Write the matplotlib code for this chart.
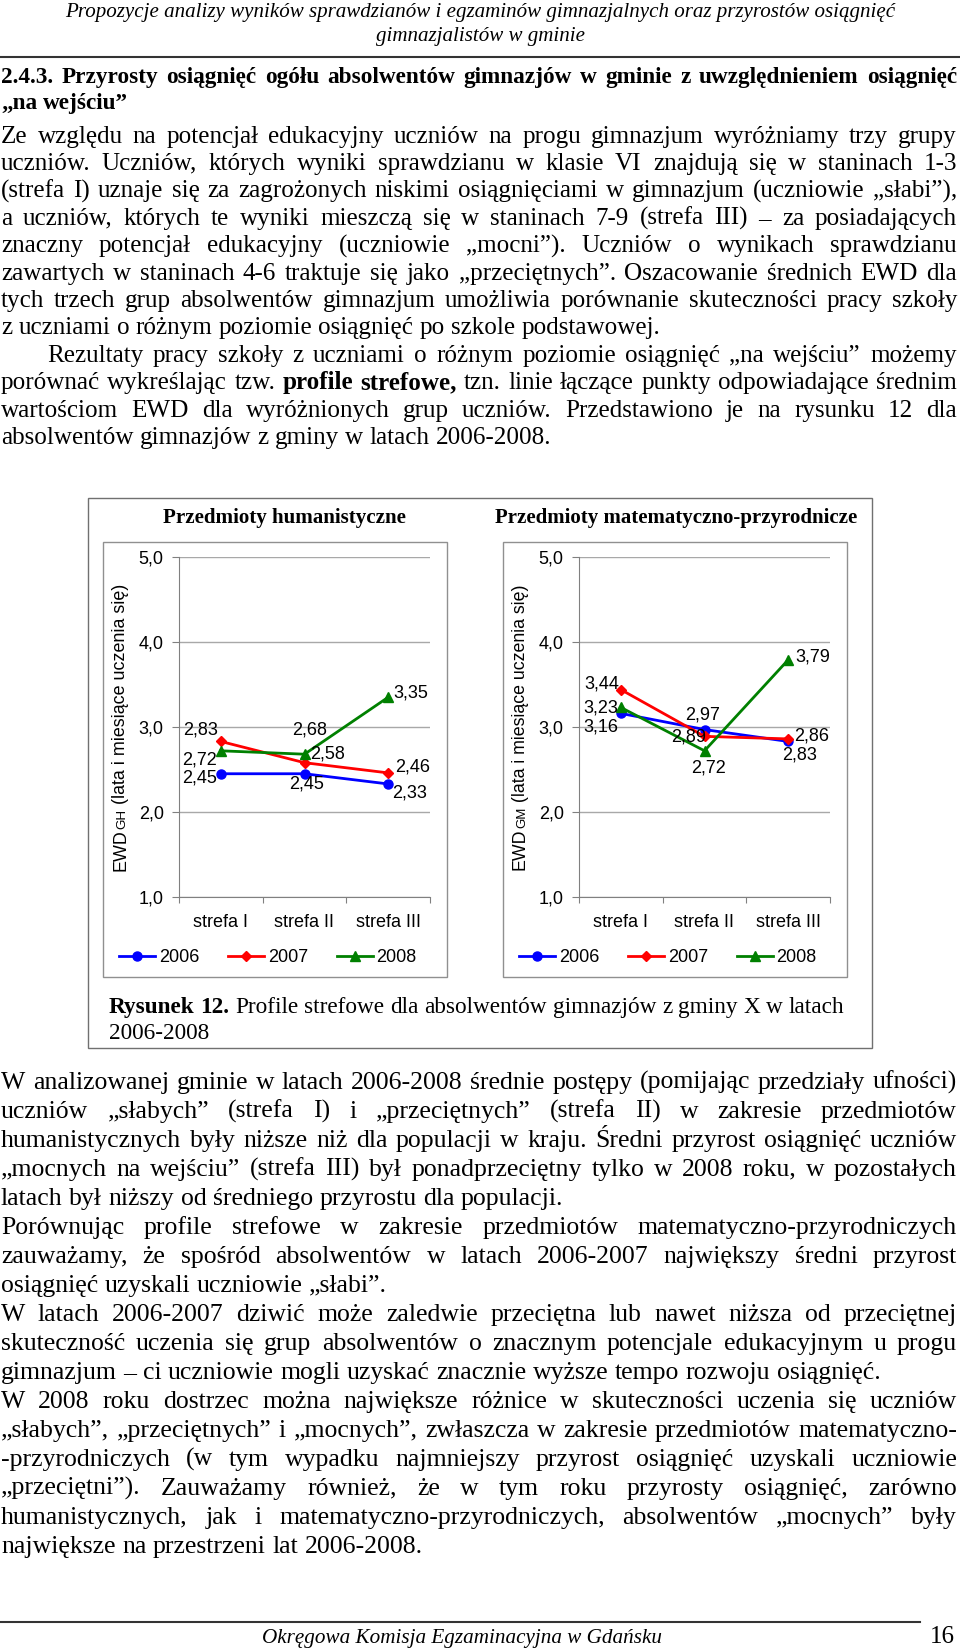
import matplotlib
matplotlib.use("Agg")
import matplotlib.pyplot as plt
from matplotlib import font_manager
from matplotlib.patches import Rectangle
from matplotlib.lines import Line2D

# ---- chart data ----
zones = ["strefa I", "strefa II", "strefa III"]
years = ["2006", "2007", "2008"]
hum_2006 = [2.45, 2.45, 2.33]
hum_2007 = [2.83, 2.58, 2.46]
hum_2008 = [2.72, 2.68, 3.35]
mat_2006 = [3.16, 2.97, 2.83]
mat_2007 = [3.44, 2.89, 2.86]
mat_2008 = [3.23, 2.72, 3.79]
y_ticks = [1.0, 2.0, 3.0, 4.0, 5.0]
y_tick_labels = ["1,0", "2,0", "3,0", "4,0", "5,0"]

hum_title = "Przedmioty humanistyczne"
mat_title = "Przedmioty matematyczno-przyrodnicze"
hum_ylabel = ["EWD", "GH", " (lata i miesiące uczenia się)"]
mat_ylabel = ["EWD", "GM", " (lata i miesiące uczenia się)"]

# ---- page text ----
header_lines = [
    "Propozycje analizy wyników sprawdzianów i egzaminów gimnazjalnych oraz przyrostów osiągnięć",
    "gimnazjalistów w gminie",
]
heading_lines = [
    "2.4.3. Przyrosty osiągnięć ogółu absolwentów gimnazjów w gminie z uwzględnieniem osiągnięć",
    "„na wejściu”",
]
top_par1 = [
    "Ze względu na potencjał edukacyjny uczniów na progu gimnazjum wyróżniamy trzy grupy",
    "uczniów. Uczniów, których wyniki sprawdzianu w klasie VI znajdują się w staninach 1-3",
    "(strefa I) uznaje się za zagrożonych niskimi osiągnięciami w gimnazjum (uczniowie „słabi”),",
    "a uczniów, których te wyniki mieszczą się w staninach 7-9 (strefa III) – za posiadających",
    "znaczny potencjał edukacyjny (uczniowie „mocni”). Uczniów o wynikach sprawdzianu",
    "zawartych w staninach 4-6 traktuje się jako „przeciętnych”. Oszacowanie średnich EWD dla",
    "tych trzech grup absolwentów gimnazjum umożliwia porównanie skuteczności pracy szkoły",
    "z uczniami o różnym poziomie osiągnięć po szkole podstawowej.",
]
top_par2 = [
    "Rezultaty pracy szkoły z uczniami o różnym poziomie osiągnięć „na wejściu” możemy",
    "porównać wykreślając tzw. *profile *strefowe, tzn. linie łączące punkty odpowiadające średnim",
    "wartościom EWD dla wyróżnionych grup uczniów. Przedstawiono je na rysunku 12 dla",
    "absolwentów gimnazjów z gminy w latach 2006-2008.",
]
caption_lines = [
    "*Rysunek *12. Profile strefowe dla absolwentów gimnazjów z gminy X w latach",
    "2006-2008",
]
bottom_pars = [
    [
        "W analizowanej gminie w latach 2006-2008 średnie postępy (pomijając przedziały ufności)",
        "uczniów „słabych” (strefa I) i „przeciętnych” (strefa II) w zakresie przedmiotów",
        "humanistycznych były niższe niż dla populacji w kraju. Średni przyrost osiągnięć uczniów",
        "„mocnych na wejściu” (strefa III) był ponadprzeciętny tylko w 2008 roku, w pozostałych",
        "latach był niższy od średniego przyrostu dla populacji.",
    ],
    [
        "Porównując profile strefowe w zakresie przedmiotów matematyczno-przyrodniczych",
        "zauważamy, że spośród absolwentów w latach 2006-2007 największy średni przyrost",
        "osiągnięć uzyskali uczniowie „słabi”.",
    ],
    [
        "W latach 2006-2007 dziwić może zaledwie przeciętna lub nawet niższa od przeciętnej",
        "skuteczność uczenia się grup absolwentów o znacznym potencjale edukacyjnym u progu",
        "gimnazjum – ci uczniowie mogli uzyskać znacznie wyższe tempo rozwoju osiągnięć.",
    ],
    [
        "W 2008 roku dostrzec można największe różnice w skuteczności uczenia się uczniów",
        "„słabych”, „przeciętnych” i „mocnych”, zwłaszcza w zakresie przedmiotów matematyczno-",
        "-przyrodniczych (w tym wypadku najmniejszy przyrost osiągnięć uzyskali uczniowie",
        "„przeciętni”). Zauważamy również, że w tym roku przyrosty osiągnięć, zarówno",
        "humanistycznych, jak i matematyczno-przyrodniczych, absolwentów „mocnych” były",
        "największe na przestrzeni lat 2006-2008.",
    ],
]
footer_text = "Okręgowa Komisja Egzaminacyjna w Gdańsku"
page_number = "16"

# ---- layout ----
W, H = 960, 1650
SERIF = "Liberation Serif"
installed = {f.name for f in font_manager.fontManager.ttflist}
if "Liberation Sans Narrow" in installed:
    SANS, FS = "Liberation Sans Narrow", 15
else:
    SANS, FS = "Liberation Sans", 13

fig = plt.figure(figsize=(W / 100, H / 100), dpi=100)
renderer = fig.canvas.get_renderer()


def fx(x):
    return x / W


def fy(y):
    return 1 - y / H


def text_width(s, size, weight="normal", style="normal", family=SERIF):
    t = fig.text(0, 0, s, fontsize=size, fontweight=weight, fontstyle=style, family=family)
    w = t.get_window_extent(renderer).width
    t.remove()
    return w


def fit_size(s, target, weight="normal", style="normal", family=SERIF):
    return 20 * target / text_width(s.replace("*", ""), 20, weight, style, family)


def put_line(line, yc, left, right, size, justify=True, style="normal", weight="normal"):
    # words starting with * are bold
    words = line.split(" ")
    pieces = []
    for w in words:
        if w.startswith("*"):
            pieces.append((w[1:], "bold"))
        else:
            pieces.append((w, weight))
    widths = [text_width(w, size, wt, style) for w, wt in pieces]
    space = text_width("a a", size, style=style) - text_width("aa", size, style=style)
    if justify and len(pieces) > 1:
        gap = (right - left - sum(widths)) / (len(pieces) - 1)
    else:
        gap = space
    base = yc + 0.3 * size * 100 / 72
    x = left
    for (w, wt), wd in zip(pieces, widths):
        fig.text(fx(x), fy(base), w, fontsize=size, fontweight=wt, fontstyle=style,
                 family=SERIF, ha="left", va="baseline")
        x += wd + gap


def put_paragraph(lines, y0, step, left, right, size, indent=0):
    for i, line in enumerate(lines):
        last = i == len(lines) - 1
        put_line(line, y0 + i * step, left + (indent if i == 0 else 0), right, size,
                 justify=not last)


L, R = 1, 957

# header
hsize = fit_size(header_lines[0], 830, style="italic")
fig.text(0.5, fy(13), header_lines[0], fontsize=hsize, fontstyle="italic", family=SERIF,
         ha="center", va="center")
fig.text(0.5, fy(37), header_lines[1], fontsize=hsize, fontstyle="italic", family=SERIF,
         ha="center", va="center")
fig.add_artist(Line2D([0, 1], [fy(57), fy(57)], color="#333333", lw=1.5))

# section heading
head_size = fit_size(heading_lines[0], 935, weight="bold")
put_line(heading_lines[0], 76, L, R, head_size, justify=True, weight="bold")
put_line(heading_lines[1], 102, L, R, head_size, justify=False, weight="bold")

# upper paragraphs
top_lines = top_par1[:-1] + top_par2[:-1]
top_size = min(fit_size(s, 940 if not s.startswith("Rezultaty") else 894) for s in top_lines)
put_paragraph(top_par1, 135, 27.4, L, R, top_size)
put_paragraph(top_par2, 135 + 8 * 27.4, 27.4, L, R, top_size, indent=46)

# ---- figure frame with two charts ----
fig.add_artist(Rectangle((fx(88), fy(1048)), (872 - 88) / W, (1048 - 498) / H,
                         transform=fig.transFigure, fill=False, ec="#707070", lw=1))

colors = ["#0000ff", "#ff0000", "#008000"]
markers = ["o", "D", "^"]
msizes = [6.5, 5, 7]

hum_label_pos = [
    [(-4, -4, "right"), (2, -10, "center"), (4, -9, "left")],
    [(-3, 11, "right"), (6, 9, "left"), (7, 6, "left")],
    [(-4, -9, "right"), (5, 24, "center"), (5, 4, "left")],
]
mat_label_pos = [
    [(-2, -14, "right"), (-2, 15, "center"), (11, -14, "center")],
    [(-2, 6, "right"), (2, -1, "right"), (6, 3, "left")],
    [(-3, -1, "right"), (4, -17, "center"), (7, 3, "left")],
]


def draw_chart(ox, series, label_pos, title, title_x, ylabel_parts):
    # chart box
    fig.add_artist(Rectangle((fx(103 + ox), fy(977)), 344 / W, (977 - 542) / H,
                             transform=fig.transFigure, fill=False, ec="#909090", lw=1))
    fig.text(fx(title_x), fy(518), title,
             fontsize=fit_size(title, 243 if ox == 0 else 363, weight="bold"),
             fontweight="bold", family=SERIF, ha="center", va="center")

    ax = fig.add_axes([fx(179 + ox), fy(897), (430 - 179) / W, (897 - 557) / H])
    xs = list(range(len(zones)))
    handles = []
    for vals, c, m, ms, lp in zip(series, colors, markers, msizes, label_pos):
        h, = ax.plot(xs, vals, color=c, marker=m, markersize=ms, lw=2, zorder=3)
        handles.append(h)
        for x, v, (dx, dy, ha) in zip(xs, vals, lp):
            ax.annotate(f"{v:.2f}".replace(".", ","), (x, v), xytext=(dx, dy),
                        textcoords="offset pixels", ha=ha, va="center",
                        fontsize=FS, family=SANS, zorder=4)
    ax.set_xlim(-0.5, len(zones) - 0.5)
    ax.set_ylim(y_ticks[0], y_ticks[-1])
    ax.set_yticks(y_ticks)
    ax.set_yticklabels(y_tick_labels, fontsize=FS, family=SANS)
    ax.set_xticks([i - 0.5 for i in range(len(zones) + 1)])
    ax.set_xticklabels([])
    ax.set_xticks(xs, minor=True)
    ax.set_xticklabels(zones, minor=True, fontsize=FS, family=SANS)
    ax.tick_params(axis="x", which="major", length=4, color="#808080", direction="out")
    ax.tick_params(axis="x", which="minor", length=0, pad=12)
    ax.tick_params(axis="y", length=5, color="#808080", pad=6)
    ax.grid(axis="y", color="#a8a8a8", lw=1)
    ax.set_axisbelow(True)
    for s in ["top", "right"]:
        ax.spines[s].set_visible(False)
    for s in ["left", "bottom"]:
        ax.spines[s].set_color("#808080")
    ax.patch.set_alpha(0)

    ax.legend(handles, years, loc="center left", bbox_to_anchor=(fx(119 + ox), fy(958)),
              bbox_transform=fig.transFigure, ncol=3, frameon=False,
              prop={"family": SANS, "size": FS}, handlelength=2.0, handletextpad=0.2,
              columnspacing=1.6, borderpad=0, borderaxespad=0)

    # rotated y label: EWD + smaller letters + rest, fitted to ~287 px
    rel = [1.0, 0.75, 1.0]
    w0 = sum(text_width(p, 10 * r, family=SANS) for p, r in zip(ylabel_parts, rel))
    base = 10 * 287 / w0
    sizes = [base * r for r in rel]
    widths = [text_width(p, s, family=SANS) for p, s in zip(ylabel_parts, sizes)]
    y = 727 + sum(widths) / 2
    for p, s, w in zip(ylabel_parts, sizes, widths):
        fig.text(fx(125 + ox), fy(y), p, fontsize=s, family=SANS, rotation=90,
                 rotation_mode="anchor", ha="left", va="baseline")
        y -= w


draw_chart(0, [hum_2006, hum_2007, hum_2008], hum_label_pos, hum_title, 284, hum_ylabel)
draw_chart(400, [mat_2006, mat_2007, mat_2008], mat_label_pos, mat_title, 676, mat_ylabel)

# caption
cap_size = fit_size(caption_lines[0], 730)
put_line(caption_lines[0], 1006, 109, 840, cap_size, justify=False)
put_line(caption_lines[1], 1032, 109, 840, cap_size, justify=False)

# lower paragraphs
bot_lines = [s for par in bottom_pars for s in par[:-1]]
bot_size = min([fit_size(bottom_pars[0][-1], 581)] + [fit_size(s, 945) for s in bot_lines])
y = 1081
for par in bottom_pars:
    put_paragraph(par, y, 29.0, L, R, bot_size)
    y += 29.0 * len(par)

# footer
fig.add_artist(Line2D([0, fx(920)], [fy(1622), fy(1622)], color="#333333", lw=1.5))
fig.text(fx(462), fy(1639), footer_text, fontsize=fit_size(footer_text, 398, style="italic"),
         fontstyle="italic", family=SERIF, ha="center", va="center")
fig.text(fx(942), fy(1637), page_number, fontsize=18, family=SERIF, ha="center", va="center")

fig.savefig("out.png", dpi=100, facecolor="white")
